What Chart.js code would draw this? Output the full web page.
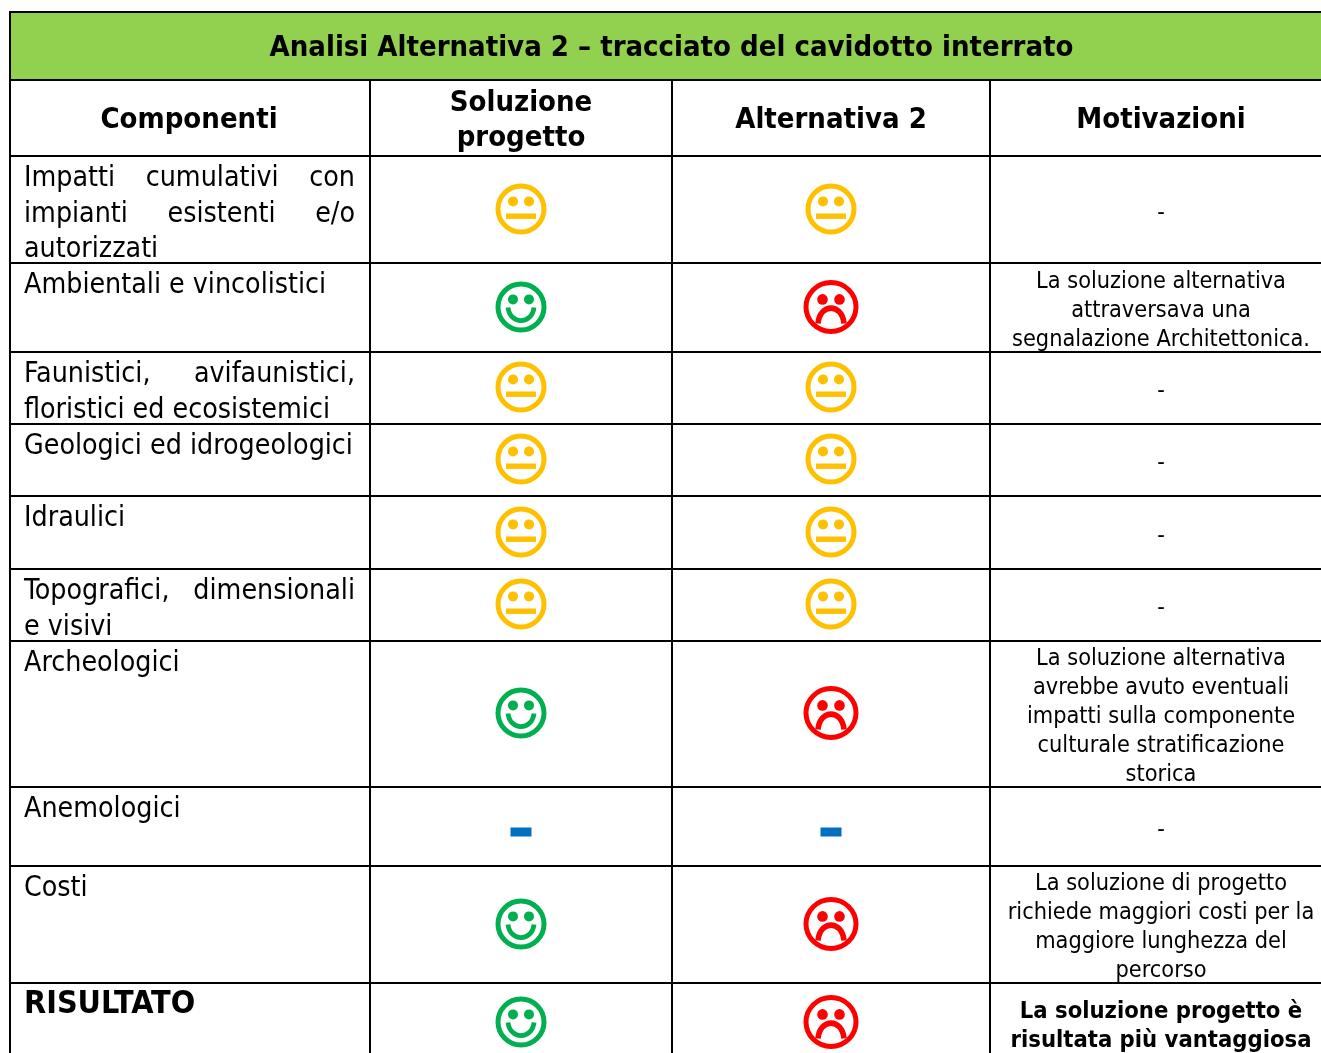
<!DOCTYPE html>
<html lang="it">
<head>
<meta charset="utf-8">
<title>Analisi Alternativa 2</title>
<script src="https://cdn.jsdelivr.net/npm/chart.js@4"></script>
<style>
    html, body { margin: 0; padding: 0; background: #fff; overflow: hidden; }
    canvas { display: block; }
</style>
</head>
<body>
<canvas id="chart" width="1321" height="1053"></canvas>
<script>
// Table content
const titolo = 'Analisi Alternativa 2 – tracciato del cavidotto interrato';
const colonne = [['Componenti'], ['Soluzione', 'progetto'], ['Alternativa 2'], ['Motivazioni']];
const componenti = [
    ['Impatti cumulativi con', 'impianti esistenti e/o', 'autorizzati'],
    ['Ambientali e vincolistici'],
    ['Faunistici, avifaunistici,', 'floristici ed ecosistemici'],
    ['Geologici ed idrogeologici'],
    ['Idraulici'],
    ['Topografici, dimensionali', 'e visivi'],
    ['Archeologici'],
    ['Anemologici'],
    ['Costi'],
    ['RISULTATO']
];
// 1 = positive, 0 = neutral, -1 = negative, null = not applicable
const soluzioneProgetto = [0, 1, 0, 0, 0, 0, 1, null, 1, 1];
const alternativa2 = [0, -1, 0, 0, 0, 0, -1, null, -1, -1];
const motivazioni = [
    ['-'],
    ['La soluzione alternativa', 'attraversava una', 'segnalazione Architettonica.'],
    ['-'],
    ['-'],
    ['-'],
    ['-'],
    ['La soluzione alternativa', 'avrebbe avuto eventuali', 'impatti sulla componente', 'culturale stratificazione', 'storica'],
    ['-'],
    ['La soluzione di progetto', 'richiede maggiori costi per la', 'maggiore lunghezza del', 'percorso'],
    ['La soluzione progetto è', 'risultata più vantaggiosa']
];

// Layout, in pixels of the linear scales
const rowEdges = [156, 263, 352, 424, 496, 569, 641, 787, 866, 983, 1063];
const colEdges = [10, 370, 672, 990];
const colCenters = [189, 521, 831, 1161];
const FONT = '"DejaVu Sans Condensed", "DejaVu Sans", sans-serif';
const lastRow = componenti.length - 1;

function rowCenter(i) {
    return (rowEdges[i] + rowEdges[i + 1]) / 2;
}

// Point sprites for the ratings
function makeSprite(draw) {
    const c = document.createElement('canvas');
    c.width = 72;
    c.height = 72;
    const g = c.getContext('2d');
    g.translate(36, 36);
    draw(g);
    return c;
}

function faceBase(g, color, rx, ry, eyeX, eyeR) {
    g.strokeStyle = color;
    g.fillStyle = color;
    g.lineWidth = 5;
    g.beginPath();
    g.ellipse(0, 0, rx - 2.5, ry - 2.5, 0, 0, Math.PI * 2);
    g.stroke();
    [-eyeX, eyeX].forEach(x => {
        g.beginPath();
        g.arc(x, -7.6, eyeR, 0, Math.PI * 2);
        g.fill();
    });
}

const spriteNeutro = makeSprite(g => {
    faceBase(g, '#FFC000', 25.5, 25.5, 8, 5);
    g.fillRect(-15, 4.5, 30, 5.4);
});
const spriteBuono = makeSprite(g => {
    faceBase(g, '#00B050', 25.5, 25.5, 8, 5);
    g.lineWidth = 4.8;
    g.beginPath();
    g.moveTo(-13, 0.5);
    g.bezierCurveTo(-11, 18, 11, 18, 13, 0.5);
    g.stroke();
});
const spriteCattivo = makeSprite(g => {
    faceBase(g, '#FF0000', 27.5, 27, 8.5, 5.3);
    g.lineWidth = 5.6;
    g.beginPath();
    g.moveTo(-13, 16.5);
    g.bezierCurveTo(-11, -4, 11, -4, 13, 16.5);
    g.stroke();
});
const spriteNullo = makeSprite(g => {
    g.fillStyle = '#0070C0';
    g.fillRect(-10.5, 1.5, 21, 9);
});

function spriteFor(score) {
    if (score === null) return spriteNullo;
    if (score > 0) return spriteBuono;
    return score < 0 ? spriteCattivo : spriteNeutro;
}

function toPoints(values, col) {
    return values.map((score, i) => ({ x: colCenters[col], y: Math.round(rowCenter(i) - 1), score: score }));
}

function drawLine(ctx, text, x, y, align, width) {
    const words = text.split(' ');
    if (!width || words.length < 2) {
        ctx.textAlign = align;
        ctx.fillText(text, x, y);
        return;
    }
    // justified line
    ctx.textAlign = 'left';
    const used = words.reduce((sum, w) => sum + ctx.measureText(w).width, 0);
    const gap = (width - used) / (words.length - 1);
    let cx = x;
    words.forEach(w => {
        ctx.fillText(w, cx, y);
        cx += ctx.measureText(w).width + gap;
    });
}

const tablePlugin = {
    id: 'tablePlugin',
    beforeDatasetsDraw(chart) {
        const ctx = chart.ctx;
        const xs = chart.scales.x;
        const ys = chart.scales.y;
        ctx.save();
        // grid lines run to the canvas edge, trim them outside the table
        ctx.fillStyle = '#fff';
        ctx.fillRect(0, 0, 1321, 11);
        ctx.fillRect(0, 0, 9, 1053);
        // title band goes over the column lines
        ctx.fillStyle = '#92D050';
        ctx.fillRect(xs.getPixelForValue(11), ys.getPixelForValue(13), 1321, 66);
        ctx.fillStyle = '#000';
        ctx.strokeStyle = '#000';
        ctx.textBaseline = 'alphabetic';

        ctx.font = 'bold 29px ' + FONT;
        ctx.textAlign = 'center';
        ctx.fillText(titolo, xs.getPixelForValue(671.5), ys.getPixelForValue(56));

        ctx.font = 'bold 29px ' + FONT;
        colonne.forEach((lines, c) => {
            const start = 128 - (lines.length - 1) * 35 / 2;
            lines.forEach((line, l) => {
                ctx.textAlign = 'center';
                ctx.fillText(line, xs.getPixelForValue(colCenters[c]), ys.getPixelForValue(start + l * 35));
            });
        });

        componenti.forEach((lines, i) => {
            ctx.font = i === lastRow ? 'bold 32px ' + FONT : '28.3px ' + FONT;
            lines.forEach((line, l) => {
                const justify = l < lines.length - 1 ? 331 : 0;
                drawLine(ctx, line, xs.getPixelForValue(24), ys.getPixelForValue(rowEdges[i] + 30 + l * 35.5), 'left', justify);
            });
        });

        motivazioni.forEach((lines, i) => {
            ctx.font = i === lastRow ? 'bold 23.6px ' + FONT : '23.3px ' + FONT;
            const start = rowCenter(i) - (lines.length - 1) * 29 / 2 + 9;
            lines.forEach((line, l) => {
                drawLine(ctx, line, xs.getPixelForValue(colCenters[3]), ys.getPixelForValue(start + l * 29), 'center', 0);
            });
        });
        ctx.restore();
    }
};

function gridAxis(max, reverse, edges) {
    return {
        type: 'linear',
        min: 0,
        max: max,
        reverse: reverse,
        afterBuildTicks(axis) {
            axis.ticks = edges.map(v => ({ value: v }));
        },
        ticks: { display: false, padding: 0 },
        border: { display: false },
        grid: { color: '#000', lineWidth: 2, drawTicks: false, tickLength: 0 }
    };
}

new Chart(document.getElementById('chart'), {
    type: 'scatter',
    data: {
        datasets: [
            { label: 'Soluzione progetto', data: toPoints(soluzioneProgetto, 1) },
            { label: 'Alternativa 2', data: toPoints(alternativa2, 2) }
        ]
    },
    options: {
        responsive: false,
        animation: false,
        layout: { padding: 0, autoPadding: false },
        scales: {
            x: gridAxis(1321, false, colEdges),
            y: gridAxis(1053, true, [12, 80].concat(rowEdges))
        },
        elements: {
            point: {
                pointStyle: ctx => spriteFor(ctx.raw.score),
                radius: 36,
                hoverRadius: 36
            }
        },
        plugins: {
            legend: { display: false },
            tooltip: { enabled: false }
        }
    },
    plugins: [tablePlugin]
});
</script>
</body>
</html>
